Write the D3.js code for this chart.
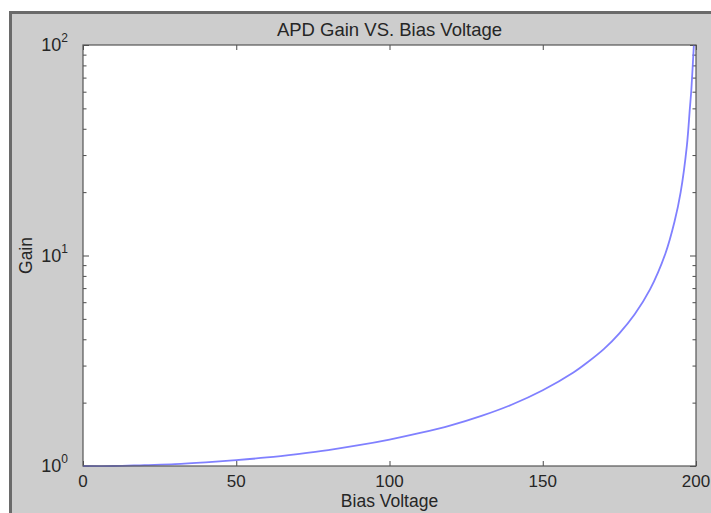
<!DOCTYPE html>
<html>
<head>
<meta charset="utf-8">
<script src="https://cdn.jsdelivr.net/npm/d3@7"></script>
<style>
	body { margin: 0; background: #ffffff; }
	svg { display: block; font-family: "Liberation Sans", Arial, sans-serif; }
</style>
</head>
<body>
<div id="chart"></div>
<script>
	// values
	const biasVoltage = [0, 10, 20, 30, 40, 50, 60, 70, 80, 90, 100, 110, 120, 130, 140, 150, 160, 165, 170, 175, 180, 185, 190, 193, 195, 197, 198, 198.5, 199.3];
	const gain = [1.0, 1.0, 1.01, 1.02, 1.04, 1.066, 1.098, 1.14, 1.19, 1.255, 1.335, 1.435, 1.56, 1.73, 1.96, 2.29, 2.78, 3.14, 3.6, 4.27, 5.26, 6.9, 10.2, 14.5, 20, 33, 50, 62, 100];
	const xTicks = [0, 50, 100, 150, 200];
	const yExponents = [0, 1, 2];

	const width = 711;
	const height = 513;
	const margin = { top: 45, right: 15, bottom: 47, left: 83 };

	const svg = d3.select('#chart')
		.append('svg')
		.attr('width', width)
		.attr('height', height);

	// figure window
	svg.append('rect')
		.attr('x', 9)
		.attr('y', 11)
		.attr('width', width)
		.attr('height', height)
		.attr('fill', '#cdcdcd');
	svg.append('line')
		.attr('x1', 11).attr('x2', width)
		.attr('y1', 12.5).attr('y2', 12.5)
		.attr('stroke', '#6a6a6a').attr('stroke-width', 3);
	svg.append('line')
		.attr('x1', 10.5).attr('x2', 10.5)
		.attr('y1', 11).attr('y2', height)
		.attr('stroke', '#6a6a6a').attr('stroke-width', 3);

	const x = d3.scaleLinear()
		.domain([0, 200])
		.range([margin.left, width - margin.right]);

	const y = d3.scaleLog()
		.domain([1, 100])
		.range([height - margin.bottom, margin.top]);

	const plotW = x.range()[1] - x.range()[0];
	const plotH = y.range()[0] - y.range()[1];

	svg.append('rect')
		.attr('x', margin.left)
		.attr('y', margin.top)
		.attr('width', plotW)
		.attr('height', plotH)
		.attr('fill', '#ffffff');

	svg.append('clipPath')
		.attr('id', 'plotClip')
		.append('rect')
		.attr('x', margin.left)
		.attr('y', margin.top - 1)
		.attr('width', plotW)
		.attr('height', plotH + 2);

	// ticks, inside on all four sides
	const tickColor = '#4a4a4a';
	const axisBottom = d3.axisBottom(x).tickValues(xTicks).tickSize(-5).tickFormat('');
	const axisTop = d3.axisTop(x).tickValues(xTicks).tickSize(-5).tickFormat('');
	svg.append('g').attr('transform', `translate(0,${y.range()[0]})`).call(axisBottom);
	svg.append('g').attr('transform', `translate(0,${y.range()[1]})`).call(axisTop);

	const minorY = [];
	yExponents.slice(0, -1).forEach(function(e){
		for(let k = 2; k < 10; k++){
			minorY.push(k * Math.pow(10, e));
		}
	});
	const majorY = yExponents.map(function(e){ return Math.pow(10, e); });

	svg.append('g').attr('transform', `translate(${margin.left},0)`)
		.call(d3.axisLeft(y).tickValues(majorY).tickSize(-6).tickFormat(''));
	svg.append('g').attr('transform', `translate(${margin.left},0)`)
		.call(d3.axisLeft(y).tickValues(minorY).tickSize(-3.5).tickFormat(''));
	svg.append('g').attr('transform', `translate(${x.range()[1]},0)`)
		.call(d3.axisRight(y).tickValues(majorY).tickSize(-6).tickFormat(''));
	svg.append('g').attr('transform', `translate(${x.range()[1]},0)`)
		.call(d3.axisRight(y).tickValues(minorY).tickSize(-3.5).tickFormat(''));

	svg.selectAll('.domain').remove();
	svg.selectAll('.tick line').attr('stroke', tickColor);

	// curve
	const line = d3.line()
		.x(function(d, i){ return x(biasVoltage[i]); })
		.y(function(d){ return y(d); })
		.curve(d3.curveCatmullRom.alpha(0.5));

	svg.append('path')
		.datum(gain)
		.attr('clip-path', 'url(#plotClip)')
		.attr('d', line)
		.attr('fill', 'none')
		.attr('stroke', '#7272ff')
		.attr('stroke-opacity', 0.9)
		.attr('stroke-width', 1.8);

	// axes box
	svg.append('rect')
		.attr('x', margin.left)
		.attr('y', margin.top)
		.attr('width', plotW)
		.attr('height', plotH)
		.attr('fill', 'none')
		.attr('stroke', '#555555')
		.attr('stroke-width', 1.2);

	const textColor = '#262626';

	// x tick labels
	svg.append('g')
		.selectAll('text')
		.data(xTicks)
		.enter()
		.append('text')
		.attr('x', function(d){ return x(d); })
		.attr('y', y.range()[0] + 21)
		.attr('text-anchor', 'middle')
		.attr('font-size', 17)
		.attr('fill', textColor)
		.text(function(d){ return d; });

	// y tick labels as 10 with superscript
	const yLabels = svg.append('g')
		.selectAll('text')
		.data(yExponents)
		.enter()
		.append('text')
		.attr('x', margin.left - 15)
		.attr('y', function(d){ return y(Math.pow(10, d)) + 6; })
		.attr('text-anchor', 'end')
		.attr('font-size', 18)
		.attr('fill', textColor);
	yLabels.append('tspan').text('10');
	yLabels.append('tspan')
		.attr('dy', -9)
		.attr('font-size', 12)
		.text(function(d){ return d; });

	// title and axis labels
	svg.append('text')
		.attr('x', (x.range()[0] + x.range()[1]) / 2)
		.attr('y', 36)
		.attr('text-anchor', 'middle')
		.attr('font-size', 18.5)
		.attr('fill', textColor)
		.text('APD Gain VS. Bias Voltage');

	svg.append('text')
		.attr('x', (x.range()[0] + x.range()[1]) / 2)
		.attr('y', 507)
		.attr('text-anchor', 'middle')
		.attr('font-size', 17.5)
		.attr('fill', textColor)
		.text('Bias Voltage');

	svg.append('text')
		.attr('transform', `translate(32,${(y.range()[0] + y.range()[1]) / 2}) rotate(-90)`)
		.attr('text-anchor', 'middle')
		.attr('font-size', 17.5)
		.attr('fill', textColor)
		.text('Gain');
</script>
</body>
</html>
